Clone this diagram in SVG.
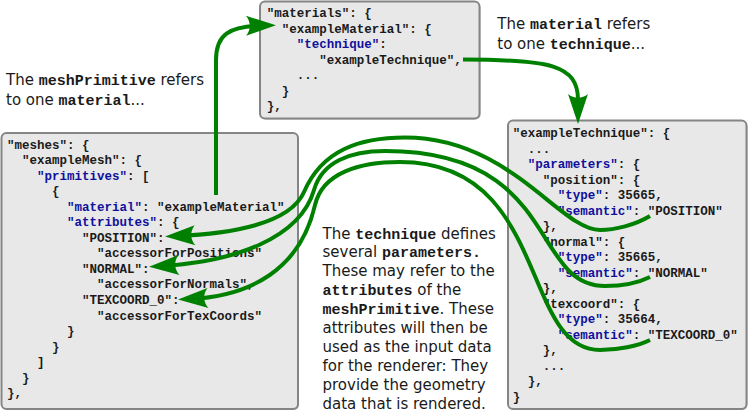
<svg xmlns="http://www.w3.org/2000/svg" width="748" height="412" viewBox="0 0 748 412">
<style>
.box{fill:#e8e8e8;stroke:#858585;stroke-width:2}
.sh{fill:#b4b4b4}
.c{font-family:"Liberation Mono","DejaVu Sans Mono",monospace;font-weight:bold;font-size:12.5px;fill:#1a1a1a}
.k{fill:#10109c}
.t{font-family:"DejaVu Sans",sans-serif;font-size:15px;fill:#1a1a1a}
.ic{font-family:"Liberation Mono","DejaVu Sans Mono",monospace;font-weight:bold}
.con{fill:none;stroke:#008000;stroke-width:4;marker-end:url(#ah)}
</style>
<defs>
<marker id="ah" markerUnits="userSpaceOnUse" viewBox="-31 -11 33 22" markerWidth="33" markerHeight="22" refX="-12" refY="0" orient="auto">
<path d="M0,0 L-30,-10 C-25,-4 -25,4 -30,10 Z" fill="#008000"/>
</marker>
</defs>

<g id="node-meshes">
<rect class="sh" x="2.5" y="134" width="296.5" height="276" rx="5"/>
<rect class="box" x="1.5" y="133" width="296.5" height="276" rx="5"/>
<text class="c" x="7" y="148.5">"meshes": {</text>
<text class="c" x="22" y="164.05">"exampleMesh": {</text>
<text class="c" x="37" y="179.6"><tspan class="k">"primitives"</tspan>: [</text>
<text class="c" x="52" y="195.15">{</text>
<text class="c" x="67" y="210.7"><tspan class="k">"material"</tspan>: "exampleMaterial",</text>
<text class="c" x="67" y="226.25"><tspan class="k">"attributes"</tspan>: {</text>
<text class="c" x="82" y="241.8">"POSITION":</text>
<text class="c" x="97" y="257.35">"accessorForPositions"</text>
<text class="c" x="82" y="272.9">"NORMAL":</text>
<text class="c" x="97" y="288.45">"accessorForNormals",</text>
<text class="c" x="82" y="304">"TEXCOORD_0":</text>
<text class="c" x="97" y="319.55">"accessorForTexCoords"</text>
<text class="c" x="67" y="335.1">}</text>
<text class="c" x="52" y="350.65">}</text>
<text class="c" x="37" y="366.2">]</text>
<text class="c" x="22" y="381.75">}</text>
<text class="c" x="7" y="397.3">},</text>
</g>

<g id="node-materials">
<rect class="sh" x="261" y="2.5" width="219.5" height="117" rx="5"/>
<rect class="box" x="260" y="1.5" width="219.5" height="117" rx="5"/>
<text class="c" x="266.7" y="17">"materials": {</text>
<text class="c" x="281.7" y="32.5">"exampleMaterial": {</text>
<text class="c" x="296.7" y="48"><tspan class="k">"technique"</tspan>:</text>
<text class="c" x="319.2" y="63.5">"exampleTechnique",</text>
<text class="c" x="296.7" y="79">...</text>
<text class="c" x="281.7" y="94.5">}</text>
<text class="c" x="266.7" y="110">},</text>
</g>

<g id="node-technique">
<rect class="sh" x="509" y="121.5" width="238.5" height="288.5" rx="5"/>
<rect class="box" x="508" y="120.5" width="238.5" height="288.5" rx="5"/>
<text class="c" x="512.7" y="137">"exampleTechnique": {</text>
<text class="c" x="527.7" y="152.5">...</text>
<text class="c" x="527.7" y="168"><tspan class="k">"parameters"</tspan>: {</text>
<text class="c" x="542.7" y="183.5">"position": {</text>
<text class="c" x="557.7" y="199"><tspan class="k">"type"</tspan>: 35665,</text>
<text class="c" x="557.7" y="214.5"><tspan class="k">"semantic"</tspan>: "POSITION"</text>
<text class="c" x="542.7" y="230">},</text>
<text class="c" x="542.7" y="245.5">"normal": {</text>
<text class="c" x="557.7" y="261"><tspan class="k">"type"</tspan>: 35665,</text>
<text class="c" x="557.7" y="276.5"><tspan class="k">"semantic"</tspan>: "NORMAL"</text>
<text class="c" x="542.7" y="292">},</text>
<text class="c" x="542.7" y="307.5">"texcoord": {</text>
<text class="c" x="557.7" y="323"><tspan class="k">"type"</tspan>: 35664,</text>
<text class="c" x="557.7" y="338.5"><tspan class="k">"semantic"</tspan>: "TEXCOORD_0"</text>
<text class="c" x="542.7" y="354">},</text>
<text class="c" x="542.7" y="369.5">...</text>
<text class="c" x="527.7" y="385">},</text>
<text class="c" x="512.7" y="400.5">}</text>
</g>

<g id="label-meshprimitive">
<text class="t" x="6" y="85">The <tspan class="ic">meshPrimitive</tspan> refers</text>
<text class="t" x="6" y="104.5">to one <tspan class="ic">material</tspan>...</text>
</g>

<g id="label-material">
<text class="t" x="497.3" y="29.3">The <tspan class="ic">material</tspan> refers</text>
<text class="t" x="497.3" y="49.3">to one <tspan class="ic">technique</tspan>...</text>
</g>

<g id="label-technique">
<text class="t" x="322.5" y="238.5">The <tspan class="ic">technique</tspan> defines</text>
<text class="t" x="322.5" y="257.45">several <tspan class="ic">parameters.</tspan></text>
<text class="t" x="322.5" y="276.4">These may refer to the</text>
<text class="t" x="322.5" y="295.35"><tspan class="ic">attributes</tspan> of the</text>
<text class="t" x="322.5" y="314.3"><tspan class="ic">meshPrimitive</tspan>. These</text>
<text class="t" x="322.5" y="333.25">attributes will then be</text>
<text class="t" x="322.5" y="352.2">used as the input data</text>
<text class="t" x="322.5" y="371.15">for the renderer: They</text>
<text class="t" x="322.5" y="390.1">provide the geometry</text>
<text class="t" x="322.5" y="409.05">data that is rendered.</text>
</g>

<g id="connectors">
<path class="con" d="M216,195 V60 C216,35 228,26 264,25.5"/>
<path class="con" d="M463,59.5 C550,59.5 578,65 578,100 V112"/>
<path class="con" d="M650,216 C635,225 615,230 600,230 C560,230 510,137.5 405,137.5 C360,137.5 322,150 304,192 C290,224 230,234 177,236"/>
<path class="con" d="M650,277 C638,283 620,286 605,286 C530,286 560,151 385,151 C350,151 322,162 314,190 C300,238 235,262 161,266"/>
<path class="con" d="M650,340 C638,346 618,350 600,350 C520,350 550,162 400,162 C360,162 322.5,172.5 315,205 C300,270 250,296 190,299"/>
</g>
</svg>
